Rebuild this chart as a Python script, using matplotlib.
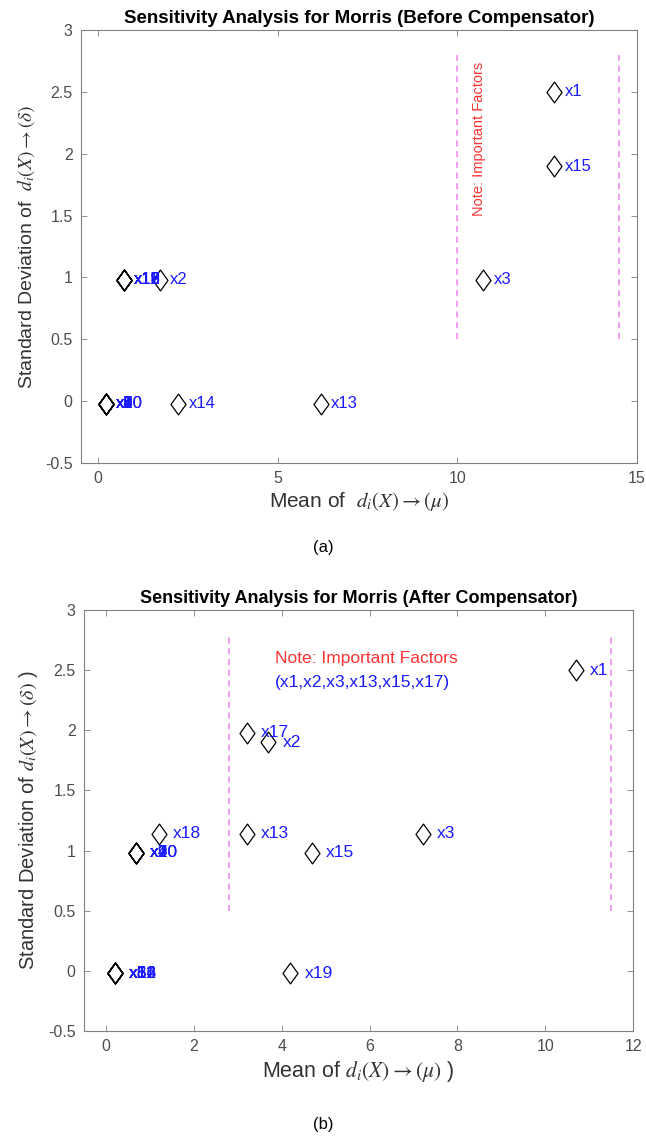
import matplotlib
matplotlib.use("Agg")
import matplotlib.pyplot as plt
from matplotlib.path import Path

plt.rcParams['font.family'] = ['Liberation Sans', 'DejaVu Sans']
plt.rcParams['mathtext.fontset'] = 'stix'

# ---- data (a) before compensator ----
labels_a = ['x1', 'x2', 'x3', 'x4', 'x5', 'x6', 'x7', 'x8', 'x9', 'x10',
            'x11', 'x12', 'x13', 'x14', 'x15', 'x16', 'x17', 'x18', 'x19', 'x20']
mean_a = [12.7, 1.72, 10.72, 0.22, 0.22, 0.22, 0.22, 0.22, 0.22, 0.22,
          0.72, 0.72, 6.2, 2.23, 12.7, 0.72, 0.72, 0.72, 0.72, 0.22]
sd_a = [2.5, 0.98, 0.98, -0.02, -0.02, -0.02, -0.02, -0.02, -0.02, -0.02,
        0.98, 0.98, -0.02, -0.02, 1.9, 0.98, 0.98, 0.98, 0.98, -0.02]
bounds_a = [10.0, 14.5]

# ---- data (b) after compensator ----
labels_b = labels_a
mean_b = [10.7, 3.7, 7.22, 0.68, 0.2, 0.2, 0.68, 0.2, 0.68, 0.68,
          0.2, 0.2, 3.2, 0.2, 4.7, 0.2, 3.2, 1.2, 4.2, 0.68]
sd_b = [2.5, 1.9, 1.14, 0.98, -0.02, -0.02, 0.98, -0.02, 0.98, 0.98,
        -0.02, -0.02, 1.14, -0.02, 0.98, -0.02, 1.98, 1.14, -0.02, 0.98]
bounds_b = [2.8, 11.5]

yticks = [-0.5, 0, 0.5, 1, 1.5, 2, 2.5, 3]
yticklabels = ['-0.5', '0', '0.5', '1', '1.5', '2', '2.5', '3']
xticks_a = [0, 5, 10, 15]
xticks_b = [0, 2, 4, 6, 8, 10, 12]

TICK_COL = '#4d4d4d'
DIAMOND = Path([(0, 1), (0.72, 0), (0, -1), (-0.72, 0), (0, 1)],
               [Path.MOVETO, Path.LINETO, Path.LINETO, Path.LINETO, Path.CLOSEPOLY])

fig = plt.figure(figsize=(6.46, 11.4), dpi=100)
ax1 = fig.add_axes([0.1254, 0.5939, 0.8607, 0.3798])
ax2 = fig.add_axes([0.1300, 0.0956, 0.8500, 0.3693])


def style(ax):
    for s in ax.spines.values():
        s.set_color('#808080')
        s.set_linewidth(0.8)
    ax.tick_params(direction='in', top=True, right=True, length=4,
                   width=0.6, color='#808080', labelcolor=TICK_COL,
                   labelsize=11.5, pad=6)


def draw(ax, mean, sd, labels, bounds, xlim, xticks, offset, fs):
    ax.plot(mean, sd, linestyle='none', marker=DIAMOND, markersize=15,
            mfc='none', mec='black', mew=0.9)
    for m, s, lab in zip(mean, sd, labels):
        ax.annotate(lab, (m, s), xytext=(offset, 0), textcoords='offset points',
                    va='center', ha='left', color='#1a1aff', fontsize=fs)
    for b in bounds:
        ax.plot([b, b], [0.5, 2.8], linestyle=(0, (4, 3)), color='#ee82ee', lw=1.1)
    ax.set_xlim(xlim)
    ax.set_ylim(-0.5, 3)
    ax.set_xticks(xticks)
    ax.set_xticklabels([str(t) for t in xticks])
    ax.set_yticks(yticks)
    ax.set_yticklabels(yticklabels)
    style(ax)


draw(ax1, mean_a, sd_a, labels_a, bounds_a, (-0.47, 15), xticks_a, 7.5, 12)
draw(ax2, mean_b, sd_b, labels_b, bounds_b, (-0.5, 12), xticks_b, 10, 12.5)

ax1.set_title('Sensitivity Analysis for Morris (Before Compensator)',
              fontsize=13.5, fontweight='bold', pad=5)
ax2.set_title('Sensitivity Analysis for Morris (After Compensator)',
              fontsize=13, fontweight='bold', pad=5)

ax1.text(10.6, 2.12, 'Note: Important Factors', rotation=90, color='#ff3333',
         fontsize=10.5, ha='center', va='center')
ax2.text(3.85, 2.6, 'Note: Important Factors', color='#ff3333',
         fontsize=12.5, ha='left', va='center')
ax2.text(3.85, 2.4, '(x1,x2,x3,x13,x15,x17)', color='#1a1aff',
         fontsize=12.5, ha='left', va='center')

ax1.set_xlabel(r'Mean of  $d_i(X) \rightarrow (\mu)$', fontsize=15, color='#333333', labelpad=3)
ax1.set_ylabel(r'Standard Deviation of  $d_i(X) \rightarrow (\delta)$', fontsize=14, color='#333333', labelpad=6)
ax2.set_xlabel(r'Mean of $d_i(X) \rightarrow (\mu)$ )', fontsize=15.5, color='#333333', labelpad=3)
ax2.set_ylabel(r'Standard Deviation of $d_i(X) \rightarrow (\delta)$ )', fontsize=14.5, color='#333333', labelpad=6)

fig.text(0.5, 1 - 548 / 1140, '(a)', ha='center', va='center', fontsize=12)
fig.text(0.5, 1 - 1125 / 1140, '(b)', ha='center', va='center', fontsize=12)

fig.savefig('out.png', dpi=100)
